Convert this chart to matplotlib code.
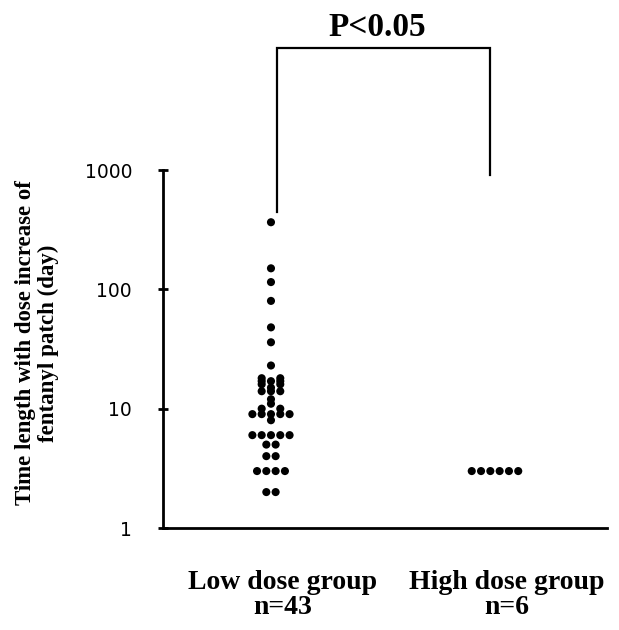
import numpy as np
import matplotlib
matplotlib.use("Agg")
import matplotlib.pyplot as plt
from matplotlib.transforms import ScaledTranslation
from collections import Counter

# ---- data ----
groups = ["Low dose group\nn=43", "High dose group\nn=6"]
low_dose_days = [365, 150, 115, 80, 48, 36, 23,
                 18, 18, 17, 17, 17, 16, 16, 15, 14, 14, 14, 12, 11, 10, 10,
                 9, 9, 9, 9, 9, 8,
                 6, 6, 6, 6, 6, 5, 5, 4, 4, 3, 3, 3, 3, 2, 2]
high_dose_days = [3, 3, 3, 3, 3, 3]
y_ticks = [1, 10, 100, 1000]
p_text = "P<0.05"
ylabel = "Time length with dose increase of\nfentanyl patch (day)"

W, H, DPI = 619, 630, 100
fig = plt.figure(figsize=(W / DPI, H / DPI), dpi=DPI)
left, right, bottom, top = 163 / W, 607 / W, 1 - 528 / H, 1 - 170 / H
ax = fig.add_axes([left, bottom, right - left, top - bottom])
ax.set_yscale("log")
ax.set_ylim(1, 1000)
ax.set_xlim(-0.482, 1.5)

ax_w_px = (right - left) * W
ax_h_px = (top - bottom) * H
px_per_unit = ax_w_px / (1.5 + 0.482)
decade_px = ax_h_px / 3.0
step = 9.3 / px_per_unit


def swarm_offsets(values):
    cnt = Counter(values)
    ypx = {v: np.log10(v) * decade_px for v in cnt}
    xs, ys = [], []
    for v, n in sorted(cnt.items()):
        near_odd = any(cnt[u] % 2 == 1 and abs(ypx[u] - ypx[v]) < 7
                       for u in cnt if u != v)
        if n % 2 == 1 or not near_odd:
            offs = np.arange(n) - (n - 1) / 2
        else:
            half = n // 2
            offs = [k for k in range(-half, half + 1) if k != 0]
        for o in offs:
            xs.append(o * step)
            ys.append(v)
    return np.array(xs), np.array(ys)


for gi, data in enumerate([low_dose_days, high_dose_days]):
    dx, yy = swarm_offsets(data)
    ax.scatter(gi + dx, yy, s=34, color="black", edgecolors="none", zorder=3)

# axes styling
for sp in ["top", "right"]:
    ax.spines[sp].set_visible(False)
ax.spines["left"].set_linewidth(2.0)
ax.spines["bottom"].set_linewidth(2.0)
ax.set_yticks(y_ticks)
ax.set_yticklabels([str(t) for t in y_ticks])
ax.yaxis.set_minor_locator(matplotlib.ticker.NullLocator())
ax.tick_params(axis="y", direction="inout", length=7.5, width=2.0, pad=18.5,
               labelsize=13.5)
for lab in ax.get_yticklabels():
    lab.set_fontfamily("DejaVu Sans")

ax.set_xticks([0, 1])
ax.set_xticklabels(groups, fontfamily="Liberation Serif", fontweight="bold",
                   fontsize=20, linespacing=1.0)
ax.tick_params(axis="x", length=0, pad=30)
for lab in ax.get_xticklabels():
    lab.set_transform(lab.get_transform() + ScaledTranslation(0.12, 0, fig.dpi_scale_trans))

fig.text(37 / W, 1 - 343 / H, ylabel, rotation=90, ha="center", va="center",
         fontfamily="Liberation Serif", fontweight="bold", fontsize=16.5,
         multialignment="center", linespacing=1.12)

# significance bracket
x_l, x_r = 0.027, 0.978
y_top, y_l, y_r = 10500, 445, 910
ax.plot([x_l, x_l, x_r, x_r], [y_l, y_top, y_top, y_r], color="black",
        lw=1.6, clip_on=False, solid_joinstyle="miter")
fig.text(377 / W, 1 - 27 / H, p_text, ha="center", va="center",
         fontfamily="Liberation Serif", fontweight="bold", fontsize=24)

fig.savefig("out.png", dpi=DPI)
